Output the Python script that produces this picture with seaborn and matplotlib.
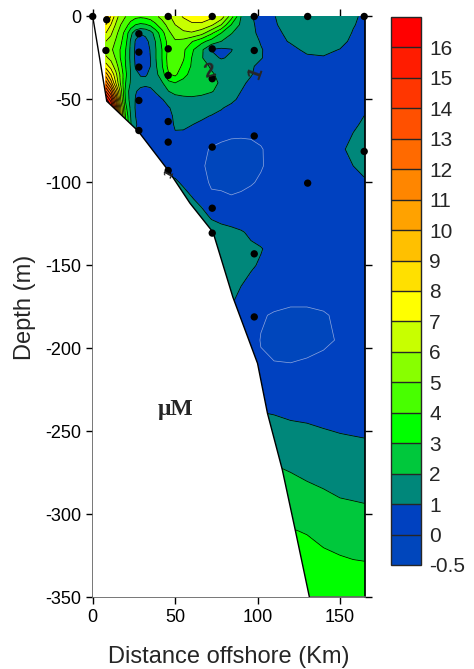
import numpy as np
import matplotlib
matplotlib.use('Agg')
import matplotlib.pyplot as plt
import seaborn as sns

dist_km = [8, 11, 14, 17, 20, 23, 26, 29, 32, 35, 38, 42, 46, 50, 55, 60, 66, 72, 78, 84,
           90, 96, 102, 110, 120, 130, 140, 150, 158, 165]
depth_m = [0, -5, -10, -15, -20, -25, -30, -35, -40, -45, -50, -55, -60, -65, -70, -80, -90,
           -100, -110, -120, -130, -140, -150, -165, -180, -195, -210, -230, -250, -270, -290,
           -310, -330, -350]

conc = [
    [9.8, 8.0, 6.5, 5.5, 5.0, 4.6, 4.3, 4.2, 4.3, 4.5, 4.8, 5.3, 5.8, 6.5, 7.1, 7.5, 7.6, 7.3, 6.6, 4.5, 2.0, 1.05, 0.8, 0.97, 1.35, 1.65, 1.75, 1.55, 1.12, 0.85],
    [8.0, 7.0, 5.9, 5.0, 4.4, 3.6, 3.0, 2.8, 2.9, 3.2, 3.8, 4.6, 5.3, 6.0, 6.5, 6.8, 6.8, 6.2, 5.0, 3.0, 1.8, 1.15, 0.75, 0.92, 1.3, 1.6, 1.7, 1.5, 1.05, 0.8],
    [7.0, 6.2, 5.3, 4.5, 3.6, 2.3, 1.4, 1.05, 1.2, 1.6, 2.4, 3.6, 4.8, 5.4, 5.8, 5.9, 5.4, 4.2, 3.0, 2.05, 1.6, 1.2, 0.8, 0.85, 1.15, 1.45, 1.5, 1.35, 0.95, 0.75],
    [6.0, 5.6, 4.9, 4.2, 3.3, 1.9, 0.9, 0.7, 0.75, 1.2, 2.0, 3.2, 4.4, 4.9, 4.7, 4.1, 3.3, 2.6, 2.0, 1.65, 1.5, 1.3, 0.95, 0.8, 1.05, 1.3, 1.35, 1.2, 0.85, 0.7],
    [5.5, 5.2, 4.6, 3.9, 3.0, 1.8, 0.8, 0.58, 0.62, 1.05, 1.9, 3.0, 4.3, 4.6, 4.2, 3.2, 2.2, 0.95, 0.8, 0.95, 1.4, 1.35, 1.05, 0.7, 0.85, 1.12, 1.15, 0.98, 0.75, 0.65],
    [6.2, 5.7, 4.9, 3.9, 2.9, 1.8, 0.8, 0.55, 0.6, 1.0, 1.9, 3.0, 4.4, 4.6, 4.1, 3.0, 2.1, 1.3, 0.92, 1.15, 1.4, 1.35, 1.05, 0.65, 0.7, 0.9, 0.95, 0.8, 0.65, 0.6],
    [7.5, 6.6, 5.5, 4.3, 3.0, 1.9, 0.9, 0.6, 0.65, 1.0, 1.8, 2.9, 4.3, 4.5, 3.8, 2.9, 2.3, 1.9, 1.6, 1.4, 1.3, 1.1, 0.8, 0.6, 0.55, 0.6, 0.6, 0.58, 0.55, 0.55],
    [9.5, 8.0, 6.3, 4.7, 3.2, 2.0, 1.2, 0.95, 0.95, 1.1, 1.7, 2.5, 3.9, 4.2, 3.3, 2.7, 2.4, 2.1, 1.8, 1.5, 1.3, 1.05, 0.7, 0.5, 0.45, 0.45, 0.45, 0.45, 0.45, 0.45],
    [11.5, 9.5, 7.0, 4.8, 3.0, 1.9, 1.35, 1.2, 1.15, 1.2, 1.5, 1.9, 2.7, 3.0, 2.7, 2.5, 2.4, 2.2, 1.9, 1.5, 1.15, 0.85, 0.6, 0.45, 0.4, 0.4, 0.4, 0.4, 0.4, 0.4],
    [14.0, 12.0, 8.8, 5.5, 2.6, 1.6, 1.05, 0.85, 0.8, 0.85, 1.05, 1.5, 2.0, 2.3, 2.3, 2.3, 2.2, 2.05, 1.8, 1.4, 1.0, 0.7, 0.55, 0.4, 0.4, 0.4, 0.4, 0.4, 0.4, 0.4],
    [16.5, 14.5, 10.5, 6.0, 2.8, 1.6, 0.95, 0.7, 0.6, 0.65, 0.75, 0.95, 1.3, 1.6, 1.8, 1.85, 1.8, 1.7, 1.45, 1.15, 0.85, 0.6, 0.5, 0.4, 0.4, 0.4, 0.4, 0.4, 0.4, 0.45],
    [16.9, 16.5, 12.0, 7.0, 3.3, 1.8, 0.9, 0.65, 0.55, 0.55, 0.6, 0.75, 0.95, 1.2, 1.4, 1.45, 1.4, 1.25, 1.05, 0.85, 0.65, 0.5, 0.45, 0.4, 0.4, 0.4, 0.4, 0.42, 0.5, 0.7],
    [16.9, 16.9, 13.5, 7.5, 3.8, 2.0, 1.0, 0.7, 0.55, 0.5, 0.55, 0.65, 0.85, 1.1, 1.3, 1.25, 1.1, 0.97, 0.85, 0.7, 0.55, 0.45, 0.4, 0.4, 0.4, 0.4, 0.42, 0.5, 0.7, 1.02],
    [16.9, 16.9, 14.0, 8.0, 4.0, 2.1, 1.1, 0.7, 0.55, 0.5, 0.5, 0.6, 0.85, 1.05, 1.1, 1.02, 0.9, 0.8, 0.7, 0.6, 0.5, 0.42, 0.4, 0.4, 0.4, 0.4, 0.45, 0.6, 0.85, 1.15],
    [16.9, 16.9, 14.0, 8.0, 4.0, 2.1, 0.95, 0.75, 0.55, 0.5, 0.5, 0.55, 0.8, 0.98, 0.95, 0.85, 0.6, 0.3, 0.2, 0.12, 0.1, 0.1, 0.15, 0.3, 0.4, 0.4, 0.5, 0.7, 1.0, 1.3],
    [5.0, 4.0, 3.0, 2.5, 2.0, 1.5, 0.8, 0.6, 0.5, 0.5, 0.5, 0.5, 0.55, 0.7, 0.7, 0.5, 0.12, -0.05, -0.15, -0.2, -0.2, -0.15, -0.04, 0.2, 0.4, 0.45, 0.6, 0.9, 1.15, 1.4],
    [3.0, 2.5, 2.0, 1.5, 1.0, 0.8, 0.6, 0.55, 0.55, 0.55, 0.55, 0.55, 0.55, 0.55, 0.5, 0.35, 0.05, -0.1, -0.22, -0.25, -0.25, -0.2, -0.05, 0.2, 0.4, 0.45, 0.55, 0.75, 1.0, 1.25],
    [1.3, 1.3, 1.3, 1.3, 1.3, 1.3, 1.3, 1.3, 1.3, 1.3, 1.3, 1.3, 1.3, 1.15, 0.85, 0.55, 0.2, -0.08, -0.1, -0.15, -0.12, -0.05, 0.08, 0.3, 0.45, 0.5, 0.5, 0.5, 0.7, 0.9],
    [1.4, 1.4, 1.4, 1.4, 1.4, 1.4, 1.4, 1.4, 1.4, 1.4, 1.4, 1.4, 1.4, 1.4, 1.4, 1.08, 0.7, 0.12, 0.1, 0.05, 0.1, 0.2, 0.3, 0.45, 0.5, 0.5, 0.5, 0.5, 0.5, 0.55],
    [1.5, 1.5, 1.5, 1.5, 1.5, 1.5, 1.5, 1.5, 1.5, 1.5, 1.5, 1.5, 1.5, 1.5, 1.5, 1.5, 1.3, 0.85, 0.6, 0.5, 0.45, 0.45, 0.45, 0.5, 0.5, 0.5, 0.5, 0.5, 0.5, 0.5],
    [1.5, 1.5, 1.5, 1.5, 1.5, 1.5, 1.5, 1.5, 1.5, 1.5, 1.5, 1.5, 1.5, 1.5, 1.5, 1.5, 1.5, 1.5, 1.4, 1.25, 1.08, 0.85, 0.65, 0.5, 0.5, 0.5, 0.5, 0.5, 0.5, 0.5],
    [1.5, 1.5, 1.5, 1.5, 1.5, 1.5, 1.5, 1.5, 1.5, 1.5, 1.5, 1.5, 1.5, 1.5, 1.5, 1.5, 1.5, 1.5, 1.5, 1.4, 1.3, 1.15, 1.05, 0.7, 0.5, 0.5, 0.5, 0.5, 0.5, 0.5],
    [1.5, 1.5, 1.5, 1.5, 1.5, 1.5, 1.5, 1.5, 1.5, 1.5, 1.5, 1.5, 1.5, 1.5, 1.5, 1.5, 1.5, 1.5, 1.5, 1.4, 1.25, 1.1, 0.9, 0.6, 0.45, 0.45, 0.45, 0.5, 0.5, 0.5],
    [1.2, 1.2, 1.2, 1.2, 1.2, 1.2, 1.2, 1.2, 1.2, 1.2, 1.2, 1.2, 1.2, 1.2, 1.2, 1.2, 1.2, 1.2, 1.2, 1.2, 0.95, 0.7, 0.5, 0.3, 0.2, 0.2, 0.25, 0.35, 0.45, 0.5],
    [0.9, 0.9, 0.9, 0.9, 0.9, 0.9, 0.9, 0.9, 0.9, 0.9, 0.9, 0.9, 0.9, 0.9, 0.9, 0.9, 0.9, 0.9, 0.9, 0.9, 0.6, 0.3, 0.05, -0.05, -0.1, -0.1, -0.05, 0.1, 0.3, 0.4],
    [0.4, 0.4, 0.4, 0.4, 0.4, 0.4, 0.4, 0.4, 0.4, 0.4, 0.4, 0.4, 0.4, 0.4, 0.4, 0.4, 0.4, 0.4, 0.4, 0.4, 0.4, 0.2, -0.02, -0.15, -0.2, -0.2, -0.1, 0.05, 0.25, 0.4],
    [0.2, 0.2, 0.2, 0.2, 0.2, 0.2, 0.2, 0.2, 0.2, 0.2, 0.2, 0.2, 0.2, 0.2, 0.2, 0.2, 0.2, 0.2, 0.2, 0.2, 0.2, 0.2, 0.05, 0.03, 0.02, 0.08, 0.15, 0.25, 0.35, 0.4],
    [0.75, 0.75, 0.75, 0.75, 0.75, 0.75, 0.75, 0.75, 0.75, 0.75, 0.75, 0.75, 0.75, 0.75, 0.75, 0.75, 0.75, 0.75, 0.75, 0.75, 0.75, 0.75, 0.75, 0.7, 0.6, 0.55, 0.5, 0.45, 0.42, 0.4],
    [1.35, 1.35, 1.35, 1.35, 1.35, 1.35, 1.35, 1.35, 1.35, 1.35, 1.35, 1.35, 1.35, 1.35, 1.35, 1.35, 1.35, 1.35, 1.35, 1.35, 1.35, 1.35, 1.35, 1.3, 1.2, 1.15, 1.05, 0.97, 0.93, 0.9],
    [2.2, 2.2, 2.2, 2.2, 2.2, 2.2, 2.2, 2.2, 2.2, 2.2, 2.2, 2.2, 2.2, 2.2, 2.2, 2.2, 2.2, 2.2, 2.2, 2.2, 2.2, 2.2, 2.2, 2.0, 1.85, 1.7, 1.6, 1.5, 1.45, 1.4],
    [2.8, 2.8, 2.8, 2.8, 2.8, 2.8, 2.8, 2.8, 2.8, 2.8, 2.8, 2.8, 2.8, 2.8, 2.8, 2.8, 2.8, 2.8, 2.8, 2.8, 2.8, 2.8, 2.8, 2.8, 2.5, 2.3, 2.15, 2.0, 1.95, 1.9],
    [3.5, 3.5, 3.5, 3.5, 3.5, 3.5, 3.5, 3.5, 3.5, 3.5, 3.5, 3.5, 3.5, 3.5, 3.5, 3.5, 3.5, 3.5, 3.5, 3.5, 3.5, 3.5, 3.5, 3.5, 3.05, 2.95, 2.75, 2.6, 2.52, 2.5],
    [3.9, 3.9, 3.9, 3.9, 3.9, 3.9, 3.9, 3.9, 3.9, 3.9, 3.9, 3.9, 3.9, 3.9, 3.9, 3.9, 3.9, 3.9, 3.9, 3.9, 3.9, 3.9, 3.9, 3.9, 3.6, 3.4, 3.25, 3.15, 3.08, 3.05],
    [3.95, 3.95, 3.95, 3.95, 3.95, 3.95, 3.95, 3.95, 3.95, 3.95, 3.95, 3.95, 3.95, 3.95, 3.95, 3.95, 3.95, 3.95, 3.95, 3.95, 3.95, 3.95, 3.95, 3.95, 3.95, 3.85, 3.7, 3.6, 3.55, 3.5],
]

# sampling stations
stn_dist = [0, 8.5, 45.8, 72.5, 98, 130.4, 164.7, 8, 28, 28, 28, 45.8, 45.8, 72.5, 72.5, 98,
            28, 45.8, 28, 45.8, 72.5, 98, 164.7, 130.4, 45.8, 72.5, 72.5, 98, 98]
stn_depth = [0, -2, 0, 0, 0, 0, 0, -20.5, -10.4, -21.5, -30.5, -19.5, -35.5, -19.5, -37.5, -20.5,
             -50.6, -63.3, -68.7, -75.7, -78.7, -72, -81.3, -100.4, -92.8, -115.5, -130.5, -143, -181]

# sea floor
bottom_dist = [0, 8.5, 27.5, 46, 59, 73, 85, 100, 106, 115, 123, 131.5]
bottom_depth = [0, -51, -69, -93, -112.5, -130, -169, -209, -239, -273, -310, -350]

levels = [-0.5, 0, 1, 2, 3, 4, 5, 6, 7, 8, 9, 10, 11, 12, 13, 14, 15, 16, 17]
band_colors = ['#0046BC', '#0041C0', '#00877A', '#00C83C', '#00FF00', '#48FF00', '#88FF00',
               '#C8FF00', '#FFFF00', '#FFE000', '#FFC000', '#FFA200', '#FF8600', '#FF6A00',
               '#FF5000', '#FF3600', '#FF1C00', '#FF0000']
cbar_ticks = [-0.5, 0, 1, 2, 3, 4, 5, 6, 7, 8, 9, 10, 11, 12, 13, 14, 15, 16]

sns.set_theme(style='ticks')
plt.rcParams['font.family'] = ['Liberation Sans', 'DejaVu Sans']
plt.rcParams['axes.unicode_minus'] = False

fig = plt.figure(figsize=(4.74, 6.69), dpi=100)
ax = fig.add_axes([0.1956, 0.1069, 0.5738, 0.8685])

X, Y = np.meshgrid(dist_km, depth_m)
Z = np.array(conc)
cf = ax.contourf(X, Y, Z, levels=levels, colors=band_colors)
ax.contour(X, Y, Z, levels=levels[2:-1], colors='black', linewidths=0.55)
ax.contour(X, Y, Z, levels=[0], colors='#8FA8DD', linewidths=0.5)

# blank out below the sea floor
ax.fill(bottom_dist + [0], bottom_depth + [-350], color='white', zorder=3, lw=0)
ax.plot(bottom_dist, bottom_depth, color='black', lw=1, zorder=4)

sns.scatterplot(x=stn_dist, y=stn_depth, color='black', s=28, edgecolor='none',
                ax=ax, zorder=5, legend=False, clip_on=False)

# contour labels
ax.text(71, -33, '2', fontsize=15, fontweight='bold', rotation=15,
        ha='center', va='center', zorder=6)
ax.text(98.5, -34, '1', fontsize=15, fontweight='bold', rotation=70,
        ha='center', va='center', zorder=6)
ax.text(46.5, -95, '1', fontsize=9, fontweight='bold', rotation=60,
        ha='center', va='center', zorder=6)
ax.text(50, -237, 'μM', fontsize=17, fontweight='bold', family=['Liberation Serif', 'DejaVu Serif'],
        ha='center', va='center', zorder=6)

ax.set_xlim(0, 165)
ax.set_ylim(-350, 0)
ax.set_xticks([0, 50, 100, 150])
ax.set_yticks([0, -50, -100, -150, -200, -250, -300, -350])
ax.tick_params(direction='out', length=5, width=1, top=True, right=True,
               labeltop=False, labelright=False, labelsize=13, colors='black')
ax.spines['top'].set_visible(False)
for s in ['left', 'bottom']:
    ax.spines[s].set_color('#666666')
ax.spines['right'].set_color('black')
ax.set_xlabel('Distance offshore (Km)', fontsize=17, labelpad=14)
ax.set_ylabel('Depth (m)', fontsize=17, labelpad=6)

cax = fig.add_axes([0.8249, 0.1555, 0.0633, 0.8191])
cb = fig.colorbar(cf, cax=cax, ticks=cbar_ticks, drawedges=True)
cb.ax.set_yticklabels(['-0.5'] + [str(v) for v in cbar_ticks[1:]])
cb.ax.tick_params(length=0, labelsize=15, pad=6)
cb.outline.set_linewidth(1)
cb.dividers.set_linewidth(1)

fig.savefig('out.png', dpi=100)
